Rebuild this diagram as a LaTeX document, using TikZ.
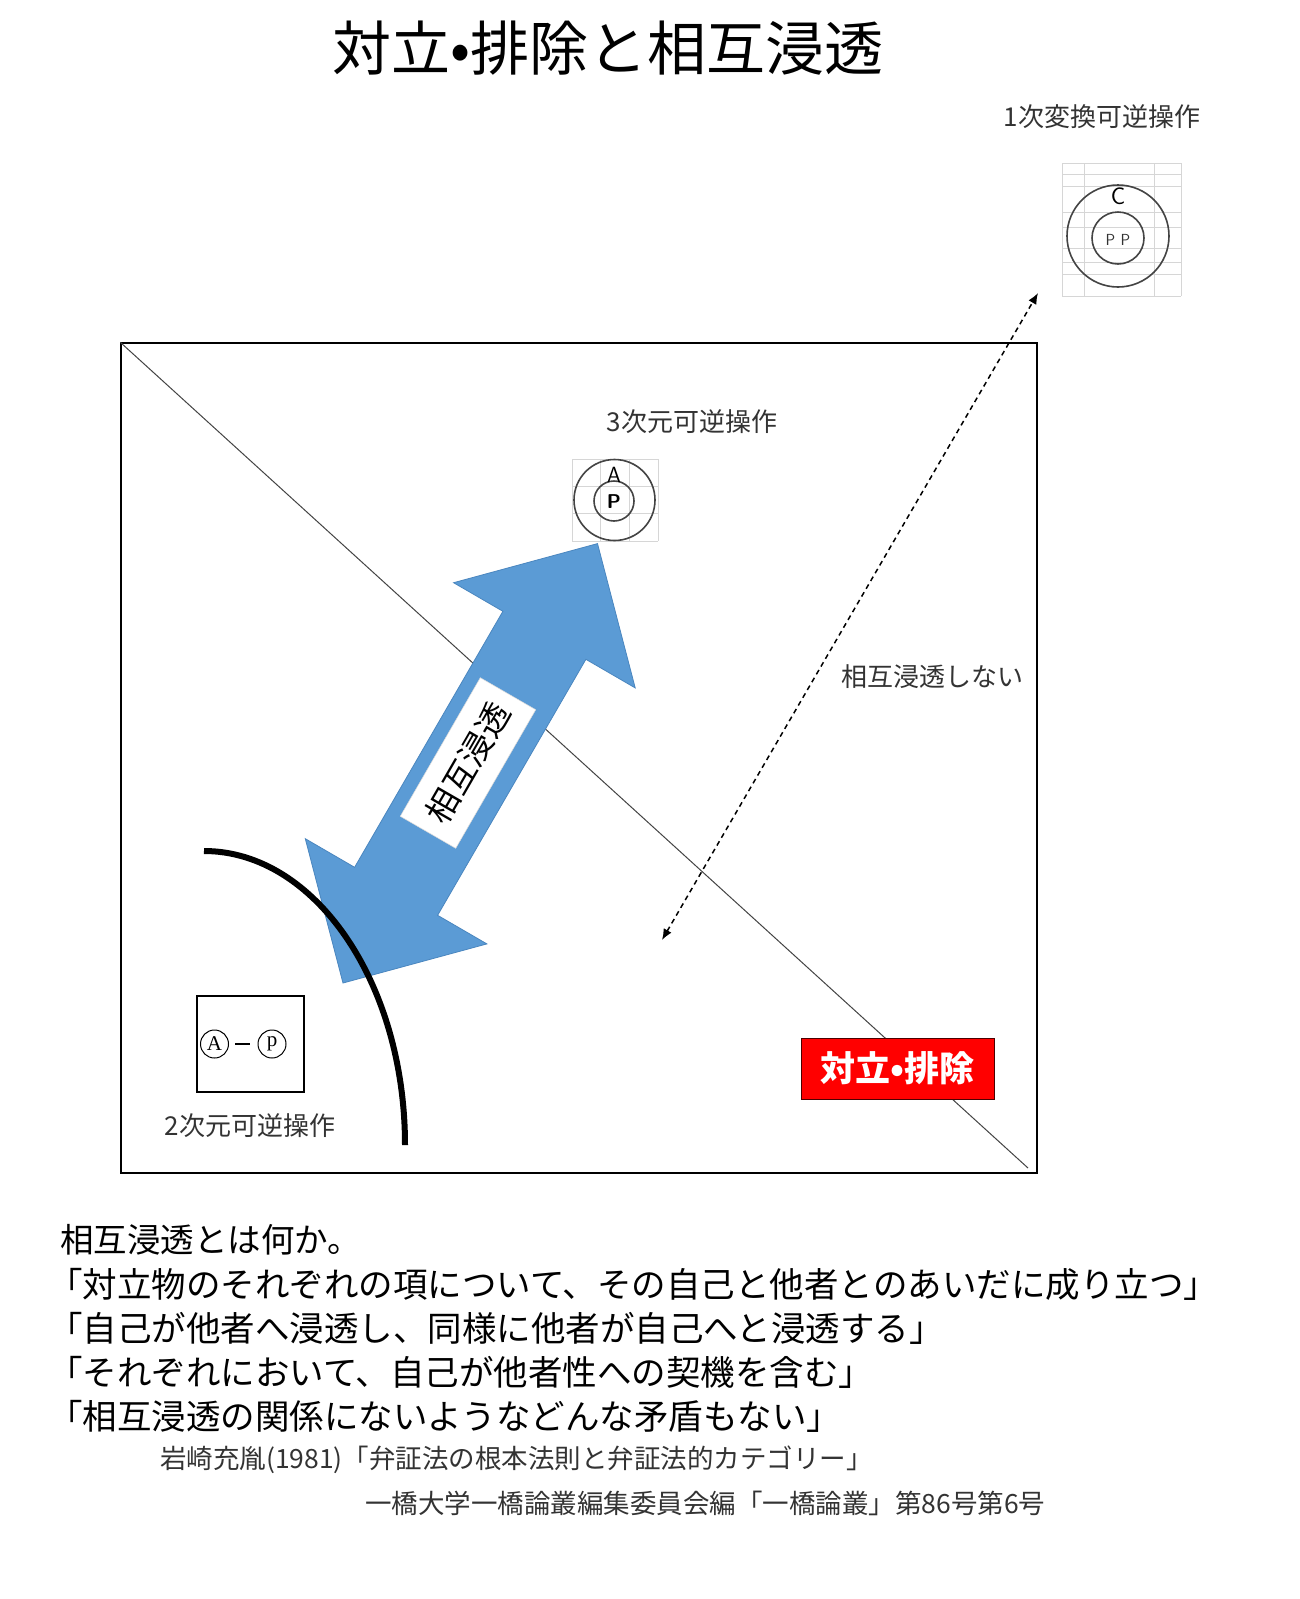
\documentclass[tikz,border=0pt]{standalone}
\usepackage{fontspec}
\newfontfamily\jp{Noto Sans CJK JP}
\newfontfamily\lserif{Liberation Serif}
\usetikzlibrary{arrows.meta}
\definecolor{arrowblue}{HTML}{5B9BD5}
\definecolor{arrowedge}{HTML}{4A86BF}
\definecolor{gridgray}{HTML}{D6D6D6}
\definecolor{labelgray}{HTML}{333333}
\definecolor{ringgray}{HTML}{444444}
\tikzset{
  lbl/.style={font=\jp\fontsize{26}{28}\selectfont, text=labelgray, inner sep=0pt},
  body/.style={font=\jp\fontsize{34.5}{36}\selectfont, text=black, anchor=west, inner sep=0pt},
  cite/.style={font=\jp\fontsize{26.5}{28}\selectfont, text=labelgray, anchor=west, inner sep=0pt},
  ring/.style={draw=ringgray, line width=1.6pt, circle, inner sep=0pt},
  gridline/.style={draw=gridgray, line width=1pt},
  circled/.style={draw=black, line width=1pt, circle, minimum size=28pt, inner sep=0pt, font=\lserif\fontsize{21}{22}\selectfont},
}
\begin{document}
\begin{tikzpicture}[x=1pt,y=-1pt]
\useasboundingbox[fill=white] (0,0) rectangle (1300,1599);

% title
\node[font=\jp\fontsize{59}{61}\selectfont, inner sep=0pt] (title) at (608,48) {対立•排除と相互浸透};

% main frame
\node[draw=black, line width=1.3pt, minimum width=916pt, minimum height=830pt, inner sep=0pt] (frame) at (579,758) {};
\coordinate (diagend) at (1028,1168);
\draw[line width=1pt, draw=ringgray] (frame.north west) -- (diagend);

% top-right grid and rings
\foreach \gx in {1062,1084,1154,1181} \draw[gridline] (\gx,163) -- (\gx,296);
\foreach \gy in {163,174,186,212,227,248,262,274,296} \draw[gridline] (1062,\gy) -- (1181,\gy);
\node[ring, minimum size=102pt] (outerC) at (1118,236) {};
\node[ring, minimum size=52pt] (innerC) at (1118,238) {};
\node[font=\sffamily\fontsize{24}{24}\selectfont, inner sep=0pt] (Cl) at (1118,196) {C};
\node[font=\sffamily\fontsize{16}{16}\selectfont, text=labelgray, inner sep=0pt] (PPl) at (1118,240) {P\,\,P};
\node[lbl] (l1) at (1102,117) {1次変換可逆操作};

% dashed double arrow
\coordinate (dA) at (1038,293);
\coordinate (dB) at (662,940);
\draw[line width=1.5pt, dash pattern=on 5pt off 4pt, {Latex[length=11pt,width=9pt]}-{Latex[length=11pt,width=9pt]}] (dB) -- (dA);
\node[lbl] (nolabel) at (932,677) {相互浸透しない};

% 3D grid and rings
\foreach \gx in {572,600.7,629.3,658} \draw[gridline] (\gx,459) -- (\gx,541);
\foreach \gy in {459,486.3,513.7,541} \draw[gridline] (572,\gy) -- (658,\gy);
\node[ring, minimum size=81pt] (outerA) at (614.5,500) {};
\node[ring, minimum size=40pt] (innerP) at (614,501) {};
\node[font=\sffamily\fontsize{22}{22}\selectfont, inner sep=0pt] (Al) at (614,475) {A};
\node[font=\sffamily\bfseries\fontsize{20}{20}\selectfont, inner sep=0pt] (Pl) at (614,502) {P};
\node[lbl] (l3) at (692,422) {3次元可逆操作};

% blue double arrow
\filldraw[fill=arrowblue, draw=arrowedge, line width=0.8pt]
  (343,983) -- (486.9,943.9) -- (437.6,915.3) -- (585.9,659.3) -- (635.2,687.9)
  -- (597.5,543.6) -- (453.6,582.7) -- (502.9,611.3) -- (354.6,867.3) -- (305.3,838.7) -- cycle;
\node[fill=white, draw=white!85!black, line width=0.5pt, rotate=60, minimum width=160pt, minimum height=64pt, inner sep=0pt,
      font=\jp\fontsize{33}{34}\selectfont] (mutual) at (468,763) {相互浸透};

% thick curve
\coordinate (cS) at (204,851);
\coordinate (cE) at (405,1145);
\draw[line width=6pt] (cS) .. controls (315,851) and (405,983) .. (cE);

% 2D box
\node[draw=black, line width=1.3pt, minimum width=107pt, minimum height=96pt, inner sep=0pt] (box2) at (250.5,1044) {};
\node[circled] (cA) at (214.5,1044) {A};
\node[circled] (cp) at (272,1044) {p};
\draw[line width=1.2pt] (cA.east) ++(6,0) coordinate (dash1) -- ++(15,0) coordinate (dash2);
\node[lbl] (l2) at (250,1126) {2次元可逆操作};

% red box
\node[fill=red, draw=black!70!red, line width=1pt, minimum width=193pt, minimum height=61pt, inner sep=0pt,
      text=white, font=\jp\bfseries\fontsize{35}{37}\selectfont] (oppose) at (897.5,1068.5) {対立•排除};

% body text
\node[body, font=\jp\fontsize{33.5}{36}\selectfont] (t1) at (60,1240) {相互浸透とは何か。};
\node[body] (t2) at (48,1284) {「対立物のそれぞれの項について、その自己と他者とのあいだに成り立つ」};
\node[body] (t3) at (48,1328) {「自己が他者へ浸透し、同様に他者が自己へと浸透する」};
\node[body] (t4) at (48,1372) {「それぞれにおいて、自己が他者性への契機を含む」};
\node[body] (t5) at (48,1416) {「相互浸透の関係にないようなどんな矛盾もない」};
\node[cite] (t6) at (160,1460) {岩崎充胤(1981)「弁証法の根本法則と弁証法的カテゴリー」};
\node[cite] (t7) at (365,1503) {一橋大学一橋論叢編集委員会編「一橋論叢」第86号第6号};
\end{tikzpicture}
\end{document}
